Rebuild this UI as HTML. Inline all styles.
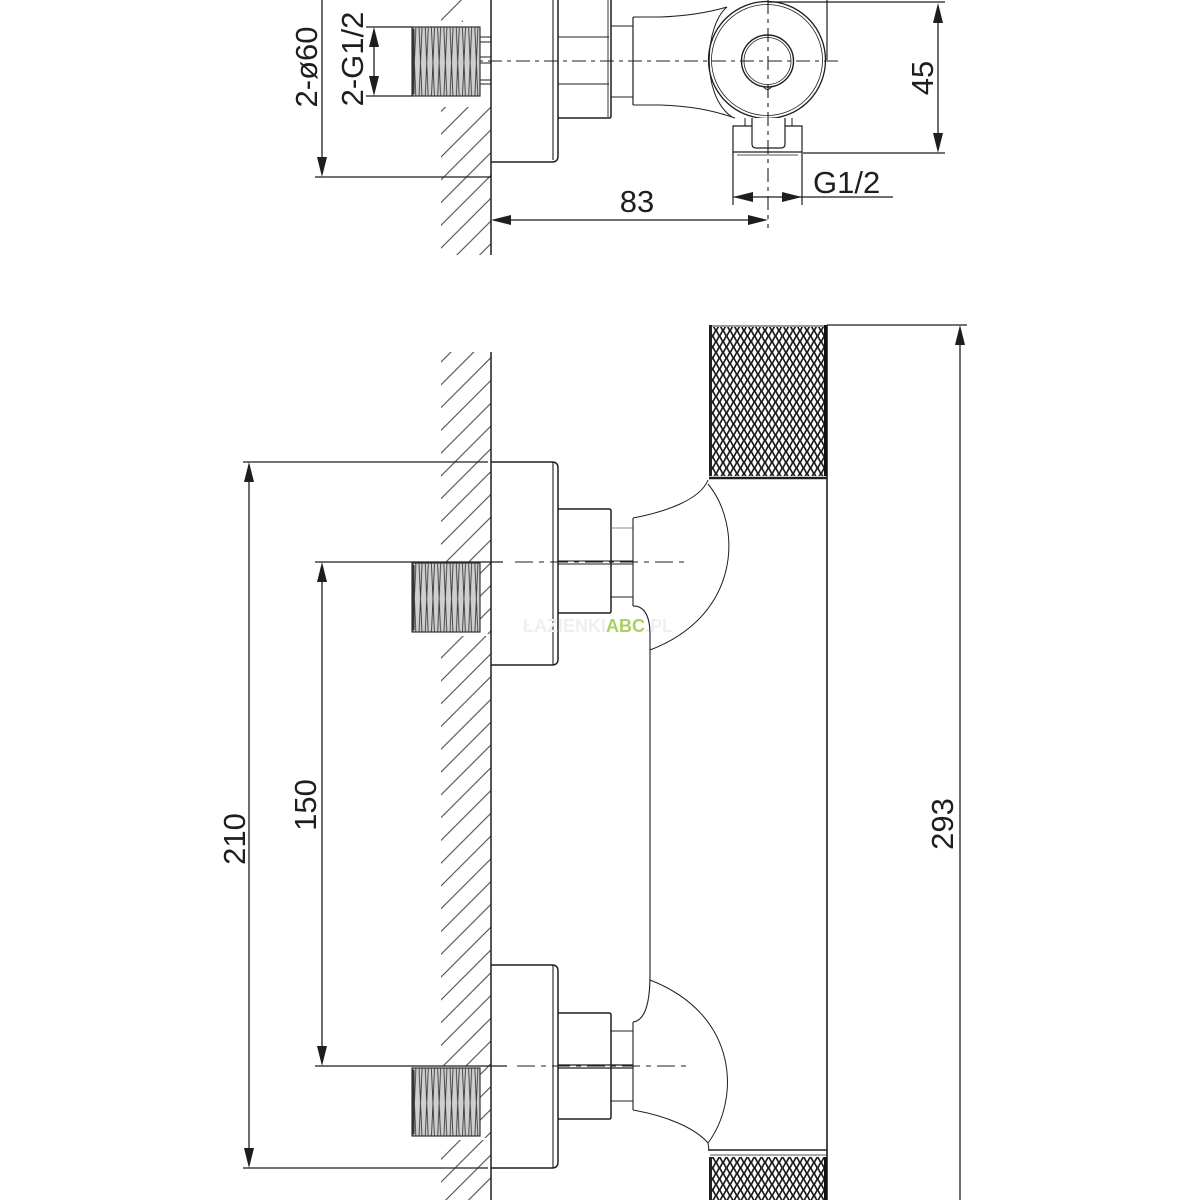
<!DOCTYPE html>
<html>
<head>
<meta charset="utf-8">
<style>
  html,body{margin:0;padding:0;background:#fff;}
  svg{display:block;}
  text{font-family:"Liberation Sans",sans-serif;fill:#1e1e1e;}
</style>
</head>
<body>
<svg width="1200" height="1200" viewBox="0 0 1200 1200" xmlns="http://www.w3.org/2000/svg">
  <defs>
    <pattern id="hatch" patternUnits="userSpaceOnUse" x="441" y="134.2" width="22.78" height="22.78">
      <path d="M0,22.78 L22.78,0 M-2,2 L2,-2 M20.78,24.78 L24.78,20.78" stroke="#4a4a4a" stroke-width="1.1"/>
    </pattern>
    <pattern id="knurl" patternUnits="userSpaceOnUse" x="709" y="325" width="7" height="11">
      <rect width="7" height="11" fill="#1c1c1c"/>
      <path d="M3.5,1.2 L5.8,5.5 L3.5,9.8 L1.2,5.5Z M0,-4.3 L2.3,0 L0,4.3 L-2.3,0Z M7,-4.3 L9.3,0 L7,4.3 L4.7,0Z M0,6.7 L2.3,11 L0,15.3 L-2.3,11Z M7,6.7 L9.3,11 L7,15.3 L4.7,11Z" fill="#fff"/>
    </pattern>
    <pattern id="knurl2" patternUnits="userSpaceOnUse" x="709" y="1157" width="7" height="11">
      <rect width="7" height="11" fill="#1c1c1c"/>
      <path d="M3.5,1.2 L5.8,5.5 L3.5,9.8 L1.2,5.5Z M0,-4.3 L2.3,0 L0,4.3 L-2.3,0Z M7,-4.3 L9.3,0 L7,4.3 L4.7,0Z M0,6.7 L2.3,11 L0,15.3 L-2.3,11Z M7,6.7 L9.3,11 L7,15.3 L4.7,11Z" fill="#fff"/>
    </pattern>
    <pattern id="th1" patternUnits="userSpaceOnUse" x="412" y="27" width="6.2" height="69">
      <rect width="6.2" height="69" fill="#cfcfcf"/>
      <path d="M0.8,0 L3.8,69 M3.9,0 L0.9,69" stroke="#3a3a3a" stroke-width="0.9" fill="none"/>
    </pattern>
    <pattern id="th2" patternUnits="userSpaceOnUse" x="412" y="563" width="6.2" height="69">
      <rect width="6.2" height="69" fill="#cfcfcf"/>
      <path d="M0.8,0 L3.8,69 M3.9,0 L0.9,69" stroke="#3a3a3a" stroke-width="0.9" fill="none"/>
    </pattern>
    <pattern id="th3" patternUnits="userSpaceOnUse" x="412" y="1068" width="6.2" height="68">
      <rect width="6.2" height="68" fill="#cfcfcf"/>
      <path d="M0.8,0 L3.8,68 M3.9,0 L0.9,68" stroke="#3a3a3a" stroke-width="0.9" fill="none"/>
    </pattern>
  </defs>

  <g fill="url(#hatch)">
    <rect x="441" y="0" width="22" height="22"/>
    <rect x="441" y="107" width="50" height="148"/>
    <rect x="441" y="352" width="50" height="210"/>
    <rect x="480" y="562" width="11" height="72"/>
    <rect x="441" y="636" width="50" height="430"/>
    <rect x="480" y="1066" width="11" height="72"/>
    <rect x="441" y="1140" width="50" height="60"/>
  </g>

  <g fill="none" stroke="#1e1e1e" stroke-width="1.5" stroke-linecap="butt">
    <line x1="491" y1="0" x2="491" y2="255"/>
    <path d="M491,162 H552 Q558,162 558,156 V0"/>
    <path d="M553,0 V160" stroke-width="1.1"/>
    <path d="M558,118 H609 Q611,118 611,116 V0"/>
    <path d="M608,0 V117" stroke-width="0.9"/>
    <path d="M558,37 H609 M558,84 H609" stroke-width="1.1"/>
    <path d="M611,26 H633 M611,97 H633" stroke-width="1.1"/>
    <path d="M633,17 V105" stroke-width="1.2"/>
    <path d="M633,17 H660 C690,16 710,12 727,7" stroke-width="1.1"/>
    <path d="M633,105 H660 C690,106 712,110 735,118" stroke-width="1.1"/>
    <path d="M727,7 C705,25 700,95 732,117" stroke-width="1"/>
    <circle cx="767" cy="60" r="58.5" stroke-width="1.3"/>
    <circle cx="767" cy="60" r="55.5" stroke-width="0.8"/>
    <circle cx="767.5" cy="61" r="26" stroke-width="1.4"/>
    <circle cx="767.5" cy="61" r="23.5" stroke-width="0.8"/>
    <path d="M763,86 Q767.5,93 772,86" stroke-width="1"/>
    <path d="M733,152 V126 H802 V152 Z" stroke-width="1.2" fill="#fff"/>
    <path d="M752,118 V144 Q752,148 756,148 H781 Q785,148 785,144 V118" stroke-width="1.2" fill="#fff"/>
    <path d="M745,118 V126 M792,118 V126" stroke-width="1"/>
    <path d="M737,155 H798" stroke-width="0.8"/>
    <path d="M480,37 H491 M480,42 H491 M480,57 H491 M480,63 H491 M480,80 H491 M480,84 H491" stroke-width="1"/>
    <path d="M768,2 H945" stroke-width="1.2"/>
    <path d="M827,0 V60" stroke-width="1.2"/>
    <path d="M460,61 H840" stroke-width="1.1" stroke-dasharray="14 5 4 5"/>
    <path d="M768,0 V228" stroke-width="1.1" stroke-dasharray="14 5 4 5"/>

    <path d="M322,0 V160" stroke-width="1.3"/>
    <path d="M315,177 H491" stroke-width="1.3"/>
    <path d="M374,45 V80" stroke-width="1.3"/>
    <path d="M366,27 H412 M366,96 H412" stroke-width="1.3"/>
    <path d="M938,20 V136" stroke-width="1.3"/>
    <path d="M803,153 H945" stroke-width="1.3"/>
    <path d="M733,152 V205 M802,152 V205" stroke-width="1.2"/>
    <path d="M733,197 H893" stroke-width="1.3"/>
    <path d="M505,220 H755" stroke-width="1.3"/>

    <line x1="491" y1="352" x2="491" y2="1200"/>
    <path d="M827,325 V1200" stroke-width="1.6"/>
    <path d="M709,478 H827" stroke-width="2.6"/>
    <path d="M827,325 H967" stroke-width="1.3"/>
    <path d="M960,343 V1200" stroke-width="1.3"/>

    <path d="M491,462 H552 Q558,462 558,468 V659 Q558,665 552,665 H491"/>
    <path d="M553,462 V665" stroke-width="1.1"/>
    <path d="M558,509 H609 Q611,509 611,511 V611 Q611,613 609,613 H558" stroke-width="1.5"/>
    <path d="M558,561 H633 M558,564 H633" stroke-width="1"/>
    <path d="M611,528 H633" stroke-width="1" stroke="#888"/>
    <path d="M611,597 H633" stroke-width="1.1"/>
    <path d="M633,518 V606" stroke-width="1.1"/>
    <path d="M633,518 C665,512 700,500 708,480" stroke-width="1"/>
    <path d="M708,484 C742,525 742,615 650,650" stroke-width="1"/>
    <path d="M633,606 Q650,606 650,635 V975 Q650,1020 633,1022" stroke-width="1.1"/>

    <path d="M491,965 H552 Q558,965 558,971 V1162 Q558,1168 552,1168 H491"/>
    <path d="M553,965 V1168" stroke-width="1.1"/>
    <path d="M558,1013 H609 Q611,1013 611,1015 V1117 Q611,1119 609,1119 H558" stroke-width="1.5"/>
    <path d="M558,1065 H633 M558,1068 H633" stroke-width="1.2"/>
    <path d="M611,1031 H633 M611,1101 H633" stroke-width="1"/>
    <path d="M633,1022 V1110" stroke-width="1.1"/>
    <path d="M650,980 C740,1015 740,1100 708,1143" stroke-width="1"/>
    <path d="M633,1110 C667,1116 695,1128 708,1143 L709,1150" stroke-width="1"/>
    <path d="M708,1150 H827" stroke-width="1.6"/>
    <path d="M710,1155 H826" stroke-width="0.8"/>

    <path d="M243,462 H488" stroke-width="1.3"/>
    <path d="M243,1168 H488" stroke-width="1.3"/>
    <path d="M249,480 V1150" stroke-width="1.3"/>
    <path d="M315,562 H503" stroke-width="1.3"/>
    <path d="M315,1066 H507" stroke-width="1.3"/>
    <path d="M322,580 V1048" stroke-width="1.3"/>
    <path d="M515,562 H686" stroke-width="1.1" stroke-dasharray="18 6 5 6"/>
    <path d="M517,1066 H686" stroke-width="1.1" stroke-dasharray="18 6 5 6"/>
  </g>

  <rect x="709" y="325" width="118" height="151" fill="url(#knurl)"/>
  <rect x="709" y="325" width="118" height="2" fill="#999"/>
  <rect x="709" y="325" width="3" height="151" fill="#222"/>
  <rect x="824" y="325" width="3" height="151" fill="#111"/>
  <rect x="709" y="1157" width="118" height="43" fill="url(#knurl2)"/>
  <rect x="709" y="1157" width="3" height="43" fill="#222"/>
  <rect x="824" y="1157" width="3" height="43" fill="#111"/>

  <g stroke="#333" stroke-width="1.2">
    <rect x="412" y="27" width="68" height="69" fill="url(#th1)"/>
    <rect x="412" y="563" width="68" height="69" fill="url(#th2)"/>
    <rect x="412" y="1068" width="68" height="68" fill="url(#th3)"/>
  </g>
  <g fill="#333">
    <rect x="412" y="29" width="2.5" height="65"/>
    <rect x="412" y="565" width="2.5" height="65"/>
    <rect x="412" y="1070" width="2.5" height="64"/>
  </g>

  <g fill="#1e1e1e">
    <polygon points="322,177 317,157 327,157"/>
    <polygon points="374,27 369,47 379,47"/>
    <polygon points="374,96 369,76 379,76"/>
    <polygon points="938,3 933,23 943,23"/>
    <polygon points="938,153 933,133 943,133"/>
    <polygon points="733,197 753,192 753,202"/>
    <polygon points="802,197 782,192 782,202"/>
    <polygon points="491,220 511,215 511,225"/>
    <polygon points="768,220 748,215 748,225"/>
    <polygon points="960,325 955,345 965,345"/>
    <polygon points="249,462 244,482 254,482"/>
    <polygon points="249,1168 244,1148 254,1148"/>
    <polygon points="322,562 317,582 327,582"/>
    <polygon points="322,1066 317,1046 327,1046"/>
  </g>

  <g font-size="31">
    <text transform="translate(317,67) rotate(-90)" text-anchor="middle">2-ø60</text>
    <text transform="translate(363,59) rotate(-90)" text-anchor="middle">2-G1/2</text>
    <text transform="translate(933,78) rotate(-90)" text-anchor="middle">45</text>
    <text x="813" y="193">G1/2</text>
    <text x="637" y="212" text-anchor="middle">83</text>
    <text transform="translate(245,839) rotate(-90)" text-anchor="middle">210</text>
    <text transform="translate(316,805) rotate(-90)" text-anchor="middle">150</text>
    <text transform="translate(953,824) rotate(-90)" text-anchor="middle">293</text>
  </g>

  <text x="523" y="632" font-size="18" font-weight="bold" style="fill:#efefef">ŁAZIENKI<tspan style="fill:#a9d160">ABC</tspan>.PL</text>
</svg>
</body>
</html>
